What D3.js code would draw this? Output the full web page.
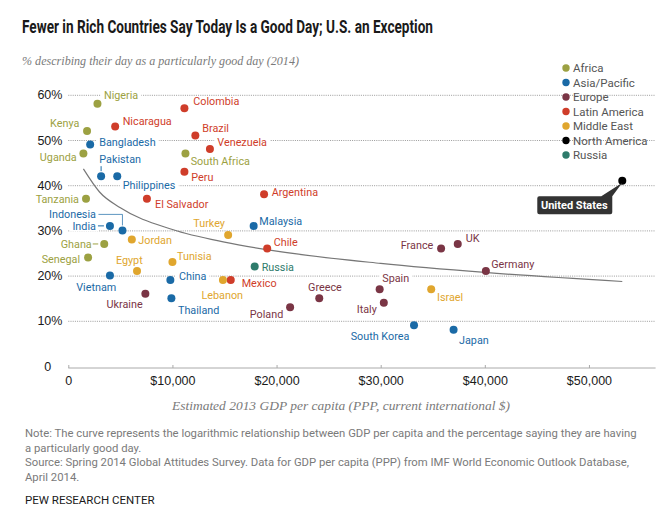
<!DOCTYPE html>
<html>
<head>
<meta charset="utf-8">
<script src="https://cdn.jsdelivr.net/npm/d3@7"></script>
<style>
  html, body { margin: 0; padding: 0; background: #fff; }
  svg { display: block; }
</style>
</head>
<body>
<svg id="chart" width="672" height="528"></svg>
<script>
// ---------------- DATA ----------------
const categories = ["Africa", "Asia/Pacific", "Europe", "Latin America", "Middle East", "North America", "Russia"];
const categoryColors = ["#9ca142", "#1a6aa6", "#7a3545", "#cf3d2a", "#e0a62e", "#000000", "#2e7b6b"];

const countries = [
  "Nigeria", "Kenya", "Uganda", "South Africa", "Tanzania", "Ghana", "Senegal",
  "Bangladesh", "Pakistan", "Philippines", "India", "Indonesia", "Vietnam", "China", "Thailand", "Malaysia", "South Korea", "Japan",
  "Ukraine", "Poland", "Greece", "Spain", "Italy", "France", "UK", "Germany",
  "Nicaragua", "Colombia", "Brazil", "Venezuela", "Peru", "El Salvador", "Argentina", "Chile", "Mexico",
  "Jordan", "Egypt", "Tunisia", "Turkey", "Lebanon", "Israel",
  "United States", "Russia"
];
const regions = [
  "Africa", "Africa", "Africa", "Africa", "Africa", "Africa", "Africa",
  "Asia/Pacific", "Asia/Pacific", "Asia/Pacific", "Asia/Pacific", "Asia/Pacific", "Asia/Pacific", "Asia/Pacific", "Asia/Pacific", "Asia/Pacific", "Asia/Pacific", "Asia/Pacific",
  "Europe", "Europe", "Europe", "Europe", "Europe", "Europe", "Europe", "Europe",
  "Latin America", "Latin America", "Latin America", "Latin America", "Latin America", "Latin America", "Latin America", "Latin America", "Latin America",
  "Middle East", "Middle East", "Middle East", "Middle East", "Middle East", "Middle East",
  "North America", "Russia"
];
// Estimated 2013 GDP per capita (PPP)
const gdpPerCapita = [
  2800, 1800, 1450, 11250, 1700, 3450, 1900,
  2100, 3150, 4700, 4000, 5200, 4000, 9800, 9900, 17800, 33200, 37000,
  7400, 21300, 24100, 29900, 30300, 35800, 37400, 40100,
  4500, 11150, 12200, 13600, 11150, 7550, 18800, 19100, 15600,
  6100, 6600, 10000, 15350, 14850, 34850,
  53200, 17900
];
// % describing their day as a particularly good day
const goodDayPct = [
  58, 52, 47, 47, 37, 27, 24,
  49, 42, 42, 31, 30, 20, 19, 15, 31, 9, 8,
  16, 13, 15, 17, 14, 26, 27, 21,
  53, 57, 51, 48, 43, 37, 38, 26, 19,
  28, 21, 23, 29, 19, 17,
  41, 22
];
// Logarithmic trend curve
const curveGdp = [1450, 3000, 5000, 10000, 15000, 20000, 30000, 40000, 53200];
const curvePct = [43.6, 38.5, 35.0, 30.2, 27.4, 25.4, 22.7, 20.7, 18.7];

const yTicks = [0, 10, 20, 30, 40, 50, 60];
const xTicks = [0, 10000, 20000, 30000, 40000, 50000];

const titleText = "Fewer in Rich Countries Say Today Is a Good Day; U.S. an Exception";
const subtitleText = "% describing their day as a particularly good day (2014)";
const xTitleText = "Estimated 2013 GDP per capita (PPP, current international $)";
const noteLines = [
  "Note: The curve represents the logarithmic relationship between GDP per capita and the percentage saying they are having",
  "a particularly good day.",
  "Source: Spring 2014 Global Attitudes Survey. Data for GDP per capita (PPP) from IMF World Economic Outlook Database,",
  "April 2014."
];
const creditText = "PEW RESEARCH CENTER";

// ---------------- LAYOUT (label placement, px offsets from dot) ----------------
const labelLayout = {
  "Nigeria": [6.5, -5, "start"], "Kenya": [-7.7, -4, "end"], "Uganda": [-6.7, 7.4, "end"],
  "South Africa": [5.2, 11.4, "start"], "Tanzania": [-7, 4.2, "end"], "Ghana": [-12.5, 3.6, "end"],
  "Senegal": [-8, 5, "end"],
  "Bangladesh": [9, 1, "start"], "Pakistan": [-1.8, -13, "start"], "Philippines": [5.5, 13.3, "start"],
  "India": [-14, 4.6, "end"], "Indonesia": [-26.5, -12.4, "end"], "Vietnam": [-13.7, 15.4, "middle"],
  "China": [8.6, 0, "start"], "Thailand": [6.6, 15.8, "start"], "Malaysia": [5.6, -1, "start"],
  "South Korea": [-4.7, 14.2, "end"], "Japan": [5.4, 14.2, "start"],
  "Ukraine": [-2.7, 14.3, "end"], "Poland": [-6.8, 10.8, "end"], "Greece": [5.7, -7.2, "middle"],
  "Spain": [2.6, -7.2, "start"], "Italy": [-7, 9.8, "end"], "France": [-7.8, 0.5, "end"],
  "UK": [7.9, -2, "start"], "Germany": [5.4, -3, "start"],
  "Nicaragua": [7.5, -1.4, "start"], "Colombia": [8.9, -3, "start"], "Brazil": [6.9, -3.5, "start"],
  "Venezuela": [7.4, -3, "start"], "Peru": [6.9, 9.4, "start"], "El Salvador": [8.1, 9.2, "start"],
  "Argentina": [7.6, 1.8, "start"], "Chile": [6.5, -2.5, "start"], "Mexico": [10.9, 6.4, "start"],
  "Jordan": [6.5, 4.6, "start"], "Egypt": [5.7, -7.1, "end"], "Tunisia": [4.6, -2, "start"],
  "Turkey": [-3.2, -7.9, "end"], "Lebanon": [-0.7, 18.9, "middle"], "Israel": [5.8, 11.8, "start"],
  "Russia": [7, 4.4, "start"]
};

// ---------------- CHART ----------------
const svg = d3.select("#chart");
const labelFont = "Roboto, 'Liberation Sans', Arial, sans-serif";
const serifFont = "Georgia, 'Liberation Serif', 'DejaVu Serif', serif";
const colorOf = d3.scaleOrdinal().domain(categories).range(categoryColors);

const x = d3.scaleLinear().domain([0, 56400]).range([68.3, 655.6]);
const y = d3.scaleLinear().domain([0, 60]).range([366, 94.8]);

const points = countries.map((c, i) => ({ name: c, region: regions[i], gdp: gdpPerCapita[i], pct: goodDayPct[i] }));

// Title & subtitle
svg.append("text").attr("x", 22).attr("y", 33)
  .attr("textLength", 411).attr("lengthAdjust", "spacingAndGlyphs")
  .style("font-family", "'Liberation Sans Narrow', 'Arial Narrow', 'Roboto', sans-serif")
  .style("font-weight", "bold").style("font-size", "17.5px").style("fill", "#1a1a1a")
  .text(titleText);
svg.append("text").attr("x", 22).attr("y", 65)
  .attr("textLength", 277).attr("lengthAdjust", "spacingAndGlyphs")
  .style("font-family", serifFont).style("font-style", "italic")
  .style("font-size", "13px").style("fill", "#7a7a7a")
  .text(subtitleText);

// Y gridlines / labels
const yAxis = d3.axisLeft(y).tickValues(yTicks).tickSize(-(655 - 68.3)).tickPadding(17).tickFormat(d => d);
const yg = svg.append("g").attr("transform", "translate(68.3,0)").call(yAxis);
yg.select(".domain").remove();
yg.selectAll(".tick line")
  .attr("stroke", "#9a9a9a").attr("stroke-dasharray", "1,1.2").attr("stroke-width", 1)
  .attr("opacity", d => d === 0 ? 0 : 1);
yg.selectAll(".tick text")
  .style("font-family", "Arial, 'Liberation Sans', sans-serif").style("font-size", "12.5px").style("fill", "#1a1a1a");
yg.selectAll(".tick").filter(d => d > 0).append("text")
  .attr("x", -17).attr("dy", "0.32em").attr("text-anchor", "start")
  .style("font-family", "Arial, 'Liberation Sans', sans-serif").style("font-size", "12.5px").style("fill", "#1a1a1a")
  .text("%");

// X axis
const xAxis = d3.axisBottom(x).tickValues(xTicks).tickSize(3).tickPadding(5)
  .tickFormat(d => d === 0 ? "0" : "$" + d3.format(",")(d));
const xg = svg.append("g").attr("transform", "translate(0,368)").call(xAxis);
xg.select(".domain").attr("stroke", "#aaa").attr("d", `M${x(0)},0H${x(56400)}`);
xg.selectAll(".tick line").attr("stroke", "#aaa").attr("y1", -3).attr("y2", 0);
xg.selectAll(".tick text")
  .style("font-family", "Arial, 'Liberation Sans', sans-serif").style("font-size", "12.5px").style("fill", "#1a1a1a");

svg.append("text").attr("x", 341).attr("y", 409.5).attr("text-anchor", "middle")
  .attr("textLength", 338).attr("lengthAdjust", "spacingAndGlyphs")
  .style("font-family", serifFont).style("font-style", "italic")
  .style("font-size", "13px").style("fill", "#7a7a7a")
  .text(xTitleText);

// Layers
const bgLayer = svg.append("g");
const curveLayer = svg.append("g");
const leaderLayer = svg.append("g");
const dotLayer = svg.append("g");
const labelLayer = svg.append("g");

const labeled = points.filter(p => labelLayout[p.name]);
const labels = labelLayer.selectAll("text").data(labeled).join("text")
  .attr("x", d => x(d.gdp) + labelLayout[d.name][0])
  .attr("y", d => y(d.pct) + labelLayout[d.name][1])
  .attr("text-anchor", d => labelLayout[d.name][2])
  .style("font-family", labelFont).style("font-size", "10.8px")
  .style("fill", d => colorOf(d.region))
  .text(d => d.name);

labels.each(function () {
  const b = this.getBBox();
  bgLayer.append("rect")
    .attr("x", b.x - 3).attr("y", b.y + 2).attr("width", b.width + 6).attr("height", Math.max(0, b.height - 4))
    .attr("fill", "#fff");
});

// Trend curve
curveLayer.append("path")
  .datum(curveGdp.map((g, i) => [g, curvePct[i]]))
  .attr("fill", "none").attr("stroke", "#777").attr("stroke-width", 1.2)
  .attr("d", d3.line().x(d => x(d[0])).y(d => y(d[1])).curve(d3.curveMonotoneX));

// Leader lines
function P(name) { const p = points.find(q => q.name === name); return [x(p.gdp), y(p.pct), colorOf(p.region)]; }
(function () {
  let [px, py, c] = P("Pakistan");
  leaderLayer.append("path").attr("d", `M${px},${py - 10}V${py - 5}`).attr("stroke", c).attr("fill", "none");
  [px, py, c] = P("India");
  leaderLayer.append("path").attr("d", `M${px - 12},${py}H${px - 6}`).attr("stroke", c).attr("fill", "none");
  [px, py, c] = P("Ghana");
  leaderLayer.append("path").attr("d", `M${px - 11.5},${py}H${px - 6}`).attr("stroke", c).attr("fill", "none");
  [px, py, c] = P("Indonesia");
  leaderLayer.append("path").attr("d", `M${px - 24},${py - 16}H${px}V${py - 5}`).attr("stroke", c).attr("stroke-opacity", 0.7).attr("fill", "none");
})();

// Dots
dotLayer.selectAll("circle").data(points).join("circle")
  .attr("cx", d => x(d.gdp)).attr("cy", d => y(d.pct)).attr("r", 4)
  .attr("fill", d => colorOf(d.region));

// United States callout
(function () {
  const [px, py] = P("United States");
  const g = svg.append("g");
  g.append("path")
    .attr("d", `M${px - 83},${py + 15.5}H${px - 21}L${px},${py + 2}L${px - 10},${py + 15.5}V${py + 31.5}Q${px - 10},${py + 33.5} ${px - 12},${py + 33.5}H${px - 83}Q${px - 85},${py + 33.5} ${px - 85},${py + 31.5}V${py + 17.5}Q${px - 85},${py + 15.5} ${px - 83},${py + 15.5}Z`)
    .attr("fill", "#333");
  g.append("text").attr("x", px - 48).attr("y", py + 28.5).attr("text-anchor", "middle")
    .style("font-family", labelFont).style("font-weight", "bold").style("font-size", "11px").style("fill", "#fff")
    .text("United States");
})();

// Legend
const legend = svg.append("g").attr("transform", "translate(566,68)");
const li = legend.selectAll("g").data(categories).join("g")
  .attr("transform", (d, i) => `translate(0,${i * 14.5})`);
li.append("circle").attr("r", 3.7).attr("fill", d => colorOf(d));
li.append("text").attr("x", 7).attr("dy", "0.35em")
  .style("font-family", labelFont).style("font-size", "11.5px").style("fill", "#555")
  .text(d => d);

// Notes
svg.append("g").selectAll("text").data(noteLines).join("text")
  .attr("x", 25).attr("y", (d, i) => 437 + i * 14.5)
  .style("font-family", labelFont).style("font-size", "11.3px").style("fill", "#7a7a7a")
  .text(d => d);
svg.append("text").attr("x", 25).attr("y", 504)
  .style("font-family", labelFont).style("font-size", "11.5px").style("fill", "#1a1a1a")
  .text(creditText);
</script>
</body>
</html>
